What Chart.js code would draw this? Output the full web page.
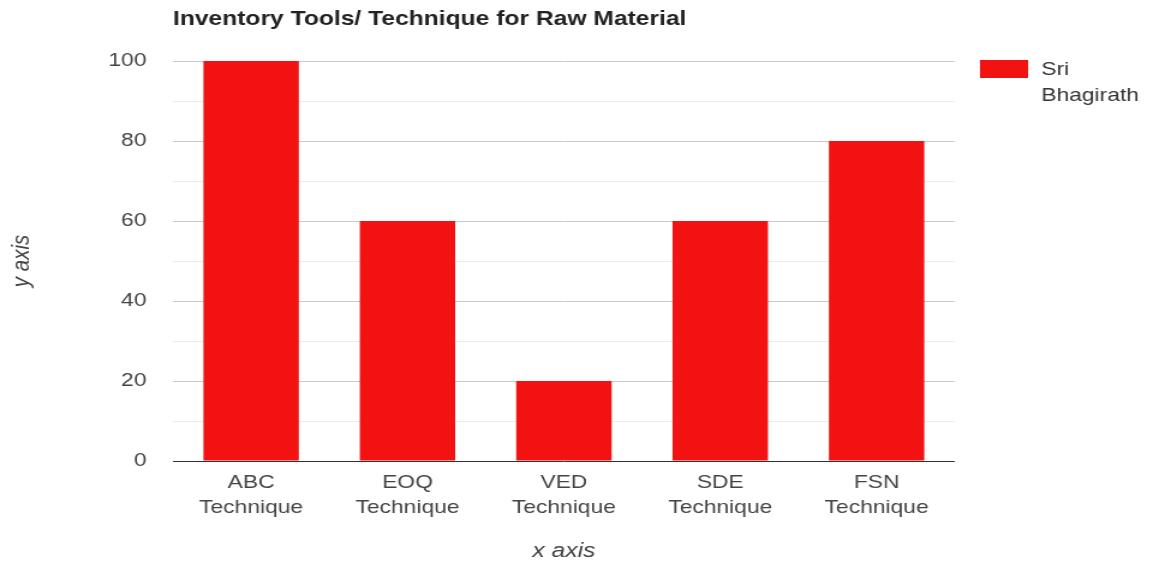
<!DOCTYPE html>
<html>
<head>
<meta charset="utf-8">
<script src="https://cdn.jsdelivr.net/npm/chart.js@4/dist/chart.umd.min.js"></script>
<style>
  html, body { margin: 0; padding: 0; background: #fff; overflow: hidden; }
  #wrap { width: 960px; height: 562px; transform: scaleX(1.201); transform-origin: 0 0; }
</style>
</head>
<body>
<div id="wrap"><canvas id="barChart" width="960" height="562"></canvas></div>
<script>
// Inventory tools - raw material
const chartTitle = 'Inventory Tools/ Technique for Raw Material';
const categories = [['ABC', 'Technique'], ['EOQ', 'Technique'], ['VED', 'Technique'], ['SDE', 'Technique'], ['FSN', 'Technique']];
const seriesName = 'Sri Bhagirath';
const seriesValues = [100, 60, 20, 60, 80];
const yTicks = [0, 20, 40, 60, 80, 100];

const barColor = '#f21212';
const fontFamily = 'Arial, "Liberation Sans", sans-serif';

// title and wrapped legend drawn by hand
const decor = {
    id: 'decor',
    afterDraw(chart) {
        const ctx = chart.ctx;
        const area = chart.chartArea;
        ctx.save();
        ctx.textBaseline = 'alphabetic';
        ctx.textAlign = 'left';
        ctx.fillStyle = '#222';
        ctx.font = 'bold 20.5px ' + fontFamily;
        ctx.fillText(chartTitle, area.left, 25);

        const ds = chart.data.datasets[0];
        ctx.fillStyle = ds.backgroundColor;
        ctx.fillRect(area.right + 21, 60, 40, 18);
        ctx.fillStyle = '#333';
        ctx.font = '19px ' + fontFamily;
        ds.label.split(' ').forEach((word, i) => {
            ctx.fillText(word, area.right + 72, 75 + i * 26);
        });
        ctx.restore();
    }
};

const barCtx = document.getElementById('barChart').getContext('2d');
new Chart(barCtx, {
    type: 'bar',
    data: {
        labels: categories,
        datasets: [{
            label: seriesName,
            data: seriesValues,
            backgroundColor: barColor,
            barPercentage: 0.61,
            categoryPercentage: 1
        }]
    },
    options: {
        responsive: false,
        animation: false,
        devicePixelRatio: 1,
        layout: { padding: { top: 61, right: 165, left: 0, bottom: 0 } },
        plugins: {
            legend: { display: false },
            title: { display: false },
            tooltip: { enabled: false }
        },
        scales: {
            x: {
                grid: { display: false },
                border: { display: false },
                ticks: {
                    color: '#444',
                    padding: 1,
                    maxRotation: 0,
                    font: { family: fontFamily, size: 19, lineHeight: 1.32 }
                },
                title: {
                    display: true,
                    text: 'x axis',
                    color: '#444',
                    padding: 0,
                    font: { family: fontFamily, size: 20.5, style: 'italic', lineHeight: 1 }
                },
                afterFit(scale) { scale.height = 101; }
            },
            y: {
                min: 0,
                max: 100,
                border: { display: false },
                grid: {
                    drawTicks: false,
                    lineWidth: 1,
                    color: c => c.tick.value === 0 ? '#333' : (yTicks.includes(c.tick.value) ? '#cccccc' : '#ebebeb')
                },
                ticks: {
                    stepSize: 10,
                    padding: 22,
                    color: '#444',
                    font: { family: fontFamily, size: 19 },
                    callback: v => yTicks.includes(v) ? String(v) : ''
                },
                title: {
                    display: true,
                    text: 'y axis',
                    color: '#444',
                    padding: { top: 8, bottom: 0 },
                    font: { family: fontFamily, size: 20.5, style: 'italic', lineHeight: 1 }
                },
                afterFit(scale) { scale.width = 144; }
            }
        }
    },
    plugins: [decor]
});
</script>
</body>
</html>
